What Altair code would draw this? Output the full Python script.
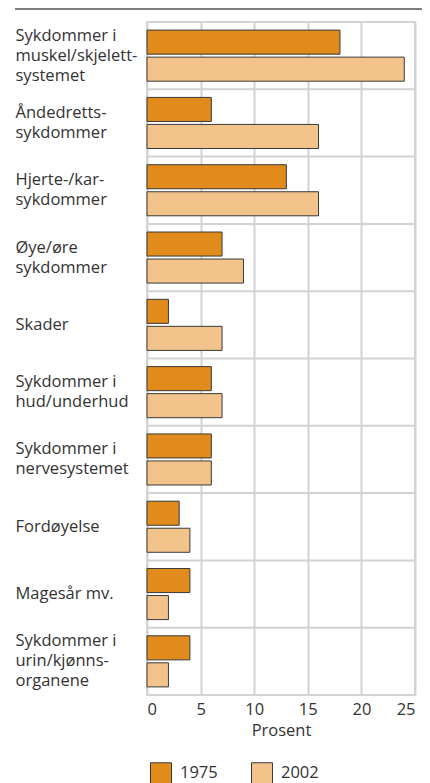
import altair as alt
import pandas as pd

categories = [
    "Sykdommer i|muskel/skjelett-|systemet",
    "Åndedretts-|sykdommer",
    "Hjerte-/kar-|sykdommer",
    "Øye/øre|sykdommer",
    "Skader",
    "Sykdommer i|hud/underhud",
    "Sykdommer i|nervesystemet",
    "Fordøyelse",
    "Magesår mv.",
    "Sykdommer i|urin/kjønns-|organene",
]
years = ["1975", "2002"]
v1975 = [18, 6, 13, 7, 2, 6, 6, 3, 4, 4]
v2002 = [24, 16, 16, 9, 7, 7, 6, 4, 2, 2]
x_ticks = [0, 5, 10, 15, 20, 25]
colors = ["#e08b1c", "#f2c48b"]

rows = []
for c, a, b in zip(categories, v1975, v2002):
    rows.append({"cat": c, "year": "1975", "value": a})
    rows.append({"cat": c, "year": "2002", "value": b})
df = pd.DataFrame(rows)
sep_df = pd.DataFrame({"cat": categories[1:]})

FONT = "Open Sans"
GRID = "#d3d3d3"
TXT = "#333333"
FS = 16.5
LH = 20

yscale = alt.Scale(domain=categories, paddingInner=0, paddingOuter=0)
yaxis = alt.Axis(
    title=None,
    labelExpr="split(datum.label, '|')",
    labelAlign="left",
    labelBaseline="middle",
    labelPadding=132,
    labelOffset={
        "condition": [
            {"test": "length(split(datum.label, '|')) == 3", "value": -LH},
            {"test": "length(split(datum.label, '|')) == 2", "value": -LH / 2},
        ],
        "value": 0,
    },
    ticks=False,
    domain=False,
    grid=False,
    labelFontSize=FS,
    labelLineHeight=LH,
    labelColor=TXT,
    labelFont=FONT,
    labelLimit=200,
)

seps = alt.Chart(sep_df).mark_rule(color=GRID, strokeWidth=2).encode(
    y=alt.Y("cat:N", sort=categories, scale=yscale, bandPosition=0, axis=yaxis),
    x=alt.value(0),
    x2=alt.value(268),
)

bars = alt.Chart(df).mark_bar(stroke="#3a3a3a", strokeWidth=1).encode(
    y=alt.Y("cat:N", sort=categories, scale=yscale, axis=yaxis),
    yOffset=alt.YOffset("year:N", sort=years, scale=alt.Scale(paddingInner=0.11, paddingOuter=0.3)),
    x=alt.X(
        "value:Q",
        scale=alt.Scale(domain=[0, 25], nice=False),
        axis=alt.Axis(
            values=x_ticks,
            title="Prosent",
            grid=True,
            gridColor=GRID,
            gridWidth=2,
            ticks=False,
            domain=False,
            labelFontSize=FS,
            labelFont=FONT,
            labelColor=TXT,
            labelPadding=6,
            titleFontSize=FS,
            titleFont=FONT,
            titleColor=TXT,
            titleFontWeight="normal",
            titlePadding=5,
        ),
    ),
    color=alt.Color(
        "year:N",
        scale=alt.Scale(domain=years, range=colors),
        legend=alt.Legend(
            title=None,
            orient="none",
            legendX=3,
            legendY=740,
            direction="horizontal",
            symbolType="square",
            symbolSize=441,
            symbolStrokeColor="#3a3a3a",
            symbolStrokeWidth=1,
            symbolOpacity=1,
            labelFontSize=FS,
            labelFont=FONT,
            labelColor=TXT,
            labelOffset=8,
            columnPadding=31,
        ),
    ),
)

top_rule = alt.Chart(pd.DataFrame({"a": [0]})).mark_rule(color="#555555", strokeWidth=1.5).encode(
    x=alt.value(-132), x2=alt.value(283), y=alt.value(-13)
)

chart = alt.layer(seps, bars, top_rule).properties(
    width=268,
    height=673,
    autosize=alt.AutoSizeParams(type="none"),
    padding={"left": 139, "top": 14, "right": 7, "bottom": 96},
    background="white",
).configure_view(stroke=GRID, strokeWidth=2)

chart.save("out.html", embed_options={"renderer": "svg", "actions": False})
